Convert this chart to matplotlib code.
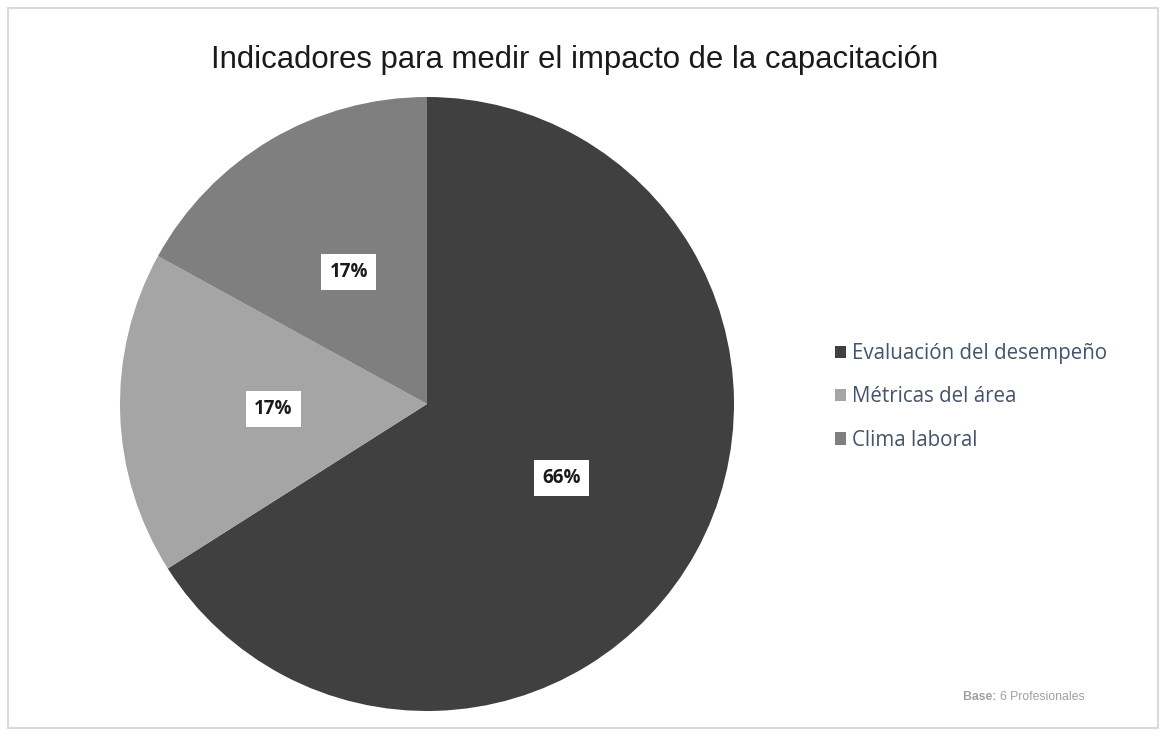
import matplotlib.pyplot as plt
from matplotlib.patches import Rectangle

# indicadores usados para medir el impacto
categorias = ['Evaluación del desempeño', 'Métricas del área', 'Clima laboral']
porcentajes = [66, 17, 17]
colores = ['#404040', '#a5a5a5', '#7f7f7f']

plt.rcParams['font.family'] = ['Liberation Sans', 'DejaVu Sans']

fig = plt.figure(figsize=(11.64, 7.36), dpi=100)
fig.patch.set_facecolor('white')

# marco gris claro alrededor del grafico
fig.patches.append(Rectangle((8 / 1164, 8 / 736), 1150 / 1164, 720 / 736,
                             transform=fig.transFigure, fill=False,
                             edgecolor='#d9d9d9', linewidth=1.5))

ax = fig.add_axes([120 / 1164, 25 / 736, 614 / 1164, 614 / 736])
wedges, textos, pcts = ax.pie(porcentajes, colors=colores, startangle=90,
                              counterclock=False, radius=1,
                              autopct=lambda p: f'{p:.0f}%', pctdistance=0.5,
                              wedgeprops=dict(linewidth=0))
ax.set_xlim(-1, 1)
ax.set_ylim(-1, 1)

for t in pcts:
    t.set_fontsize(13.5)
    t.set_fontweight('bold')
    t.set_color('#1a1a1a')
    t.set_family(['Open Sans', 'DejaVu Sans'])
    t.set_bbox(dict(facecolor='white', edgecolor='none', pad=6))

fig.text(575 / 1164, 1 - 60 / 736,
         'Indicadores para medir el impacto de la capacitación',
         ha='center', va='center', fontsize=22.4, color='#1a1a1a')

leg = fig.legend(wedges, categorias, loc='center left',
                 bbox_to_anchor=(816 / 1164, 1 - 397 / 736), frameon=False,
                 handlelength=0.55, handleheight=0.55, handletextpad=0.3,
                 labelspacing=1.08, prop={'family': ['Open Sans', 'DejaVu Sans'], 'size': 14.8})
for t in leg.get_texts():
    t.set_color('#44546a')

base = fig.text(963 / 1164, 1 - 697 / 736, 'Base: ', fontsize=8.8, fontweight='bold',
                color='#a0a0a0', va='center', ha='left')
ax.annotate('6 Profesionales', xy=(1, 0.5), xycoords=base, va='center', ha='left',
            fontsize=8.8, color='#a0a0a0', annotation_clip=False)

fig.savefig('out.png', dpi=100, facecolor='white')
